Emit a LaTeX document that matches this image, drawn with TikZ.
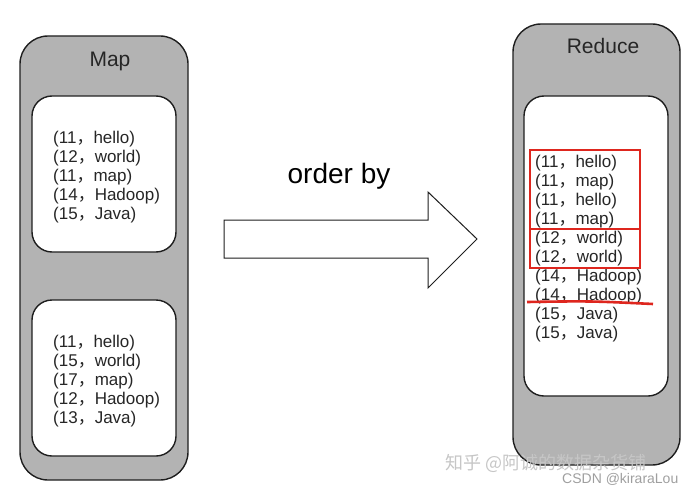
\documentclass[tikz,border=0pt]{standalone}
\usepackage{fontspec}
\setmainfont{Liberation Sans}
\newfontfamily\cjk{Noto Sans CJK SC}
\usetikzlibrary{positioning}
\definecolor{boxgray}{RGB}{179,179,179}
\definecolor{markred}{RGB}{222,38,30}
\definecolor{edgegray}{RGB}{30,30,30}
\newcommand\zhcomma{{\cjk ，}}

\begin{document}
\begin{tikzpicture}[x=1pt,y=-1pt,
	outer/.style={draw=edgegray,line width=1.4pt,fill=boxgray,rounded corners=28,inner sep=0},
	inner/.style={draw=edgegray,line width=1.4pt,fill=white,rounded corners=20,inner sep=0},
	title/.style={anchor=base,inner sep=0,font=\fontsize{21}{24}\selectfont,text=black!85},
	item/.style={anchor=base west,inner sep=0,font=\fontsize{17}{19}\selectfont,text=black!85},
	redline/.style={draw=markred,line width=2.6pt}]
		\useasboundingbox (0,0) rectangle (692,492);
		% Map side
		\node[outer,minimum width=168,minimum height=444](map) at (104,258) {};
		\node[title](maptitle) at (110,67) {Map};
		\node[inner,minimum width=144,minimum height=156](m1) at (104,174) {};
		\node[inner,minimum width=144,minimum height=156](m2) at (104,378) {};
		\foreach \t [count=\i] in {(11\zhcomma hello),(12\zhcomma world),(11\zhcomma map),(14\zhcomma Hadoop),(15\zhcomma Java)}
			\node[item](a\i) at (53,{143+19*(\i-1)}) {\t};
		\foreach \t [count=\i] in {(11\zhcomma hello),(15\zhcomma world),(17\zhcomma map),(12\zhcomma Hadoop),(13\zhcomma Java)}
			\node[item](b\i) at (53,{347+19*(\i-1)}) {\t};
		% arrow
		\draw[line width=1pt,draw=edgegray,fill=white] (224,220) -- (428,220) -- (428,192) -- (477,239)
			-- (428,288) -- (428,258) -- (224,258) -- cycle;
		\node[anchor=base,font=\fontsize{28}{32}\selectfont](order) at (339,183) {order by};
		% Reduce side
		\node[outer,minimum width=167,minimum height=441](reduce) at (596.5,244.5) {};
		\node[title](reducetitle) at (603,54) {Reduce};
		\node[inner,minimum width=144,minimum height=300](r) at (596,246) {};
		\foreach \t [count=\i] in {(11\zhcomma hello),(11\zhcomma map),(11\zhcomma hello),(11\zhcomma map),(12\zhcomma world),
			(12\zhcomma world),(14\zhcomma Hadoop),(14\zhcomma Hadoop),(15\zhcomma Java),(15\zhcomma Java)}
			\node[item](r\i) at (535,{167+19.1*(\i-1)}) {\t};
		\draw[redline] (530,150) rectangle (640,229);
		\draw[redline] (530,229) rectangle (640,268);
		\draw[redline] (527,302) .. controls (590,301) .. (653,304);
		% watermark
		\node[anchor=base west,inner sep=0,font=\cjk\fontsize{18}{20}\selectfont,text=gray!45](zhihu) at (445,469) {知乎 @阿诚的数据杂货铺};
		\node[anchor=base west,inner sep=0,font=\fontsize{14}{16}\selectfont,text=gray!75](csdn) at (562,483) {CSDN @kiraraLou};
\end{tikzpicture}
\end{document}
